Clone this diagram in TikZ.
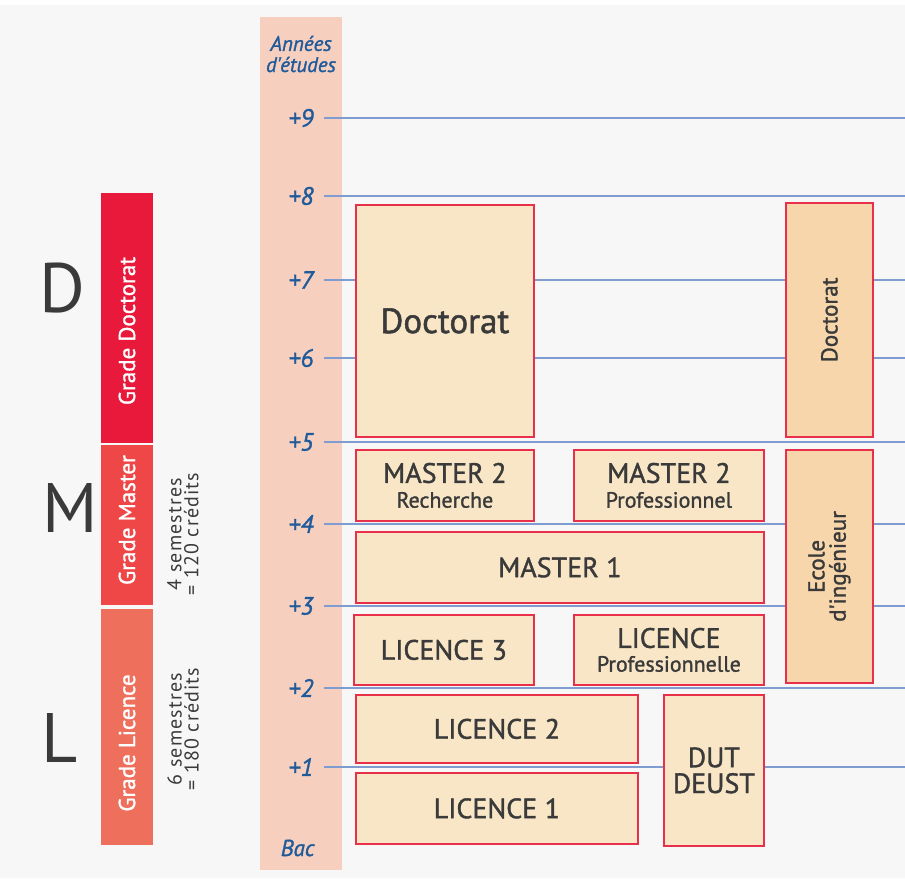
\documentclass[tikz,border=0pt]{standalone}
\usepackage{fontspec}
\setmainfont{PT Sans}
\newfontfamily\semib[FakeBold=1.3]{PT Sans}
\newfontfamily\spaced[LetterSpace=6]{PT Sans}
\usetikzlibrary{positioning}

\definecolor{bggray}{HTML}{F7F7F7}
\definecolor{bandpink}{HTML}{F6CFBF}
\definecolor{lineblue}{HTML}{7F9CD0}
\definecolor{yearblue}{HTML}{1F5A9A}
\definecolor{boxfill}{HTML}{F8E6C6}
\definecolor{boxorange}{HTML}{F7D6AC}
\definecolor{boxred}{HTML}{E8304A}
\definecolor{txtdark}{HTML}{3A3A3A}
\definecolor{gradeD}{HTML}{E8193A}
\definecolor{gradeM}{HTML}{EF4747}
\definecolor{gradeL}{HTML}{EF6F5D}

\newcommand{\fsz}[1]{\fontsize{#1}{1.1\dimexpr#1pt\relax}\selectfont}

\begin{document}
\begin{tikzpicture}[x=1pt,y=-1pt,
  cbox/.style={draw=boxred,fill=boxfill,line width=1.8pt,inner sep=0pt,
    align=center,text=txtdark,anchor=north west,font=\semib\fsz{28}},
  obox/.style={cbox,fill=boxorange},
  vtxt/.style={rotate=90,text=txtdark,align=center,font=\semib\fsz{23}},
  gradebar/.style={inner sep=0pt,anchor=north west,minimum width=52pt},
  gradetxt/.style={rotate=90,text=white,font=\semib\fsz{23}},
  yearlbl/.style={text=yearblue,font=\semib\fsz{25}\itshape,anchor=east},
  yline/.style={draw=lineblue,line width=1.8pt},
  bigletter/.style={text=txtdark,font=\fsz{70}},
  credits/.style={rotate=90,text=txtdark,align=center,font=\spaced\fsz{20}}]
  \useasboundingbox (0,0) rectangle (905,882);
  \fill[white] (0,0) rectangle (905,882);
  \fill[bggray] (0,5) rectangle (905,878);
  % years column
  \fill[bandpink] (260,17) rectangle (342,870);
  \node[text=yearblue,font=\semib\fsz{21}\itshape,align=center] (annees) at (301,54) {Années\\[-2pt]d'études};
  \foreach \n/\y in {9/118,8/196,7/280,6/358,5/442,4/524,3/606,2/688,1/767}{
    \node[yearlbl] (y\n) at (317,\y) {+\n};
    \draw[yline] (324,\y) -- (905,\y);
  }
  \node[yearlbl,font=\semib\fsz{23}\itshape] (bac) at (318,848) {Bac};

  % grades
  \node[gradebar,fill=gradeD,minimum height=250pt] (gd) at (101,193) {};
  \node[gradebar,fill=gradeM,minimum height=160pt] (gm) at (101,445) {};
  \node[gradebar,fill=gradeL,minimum height=236pt] (gl) at (101,609) {};
  \node[gradetxt] (gd-t) at (127,331) {Grade Doctorat};
  \node[gradetxt] (gm-t) at (127,520) {Grade Master};
  \node[gradetxt] (gl-t) at (127,743) {Grade Licence};
  \node[bigletter] (lD) at (62,288) {D};
  \node[bigletter] (lM) at (70,508) {M};
  \node[bigletter] (lL) at (60,738) {L};
  \node[credits] (cm) at (183,534) {4 semestres\\[-5pt]= 120 crédits};
  \node[credits] (cl) at (183,729) {6 semestres\\[-5pt]= 180 crédits};

  % diplomas
  \node[cbox,minimum width=178pt,minimum height=232pt,font=\semib\fsz{35}] (doc) at (355,204) {Doctorat};
  \node[obox,minimum width=87pt,minimum height=234pt] (docv) at (785,202) {};
  \node[vtxt] (docv-t) at (docv.center) {Doctorat};
  \node[cbox,minimum width=178pt,minimum height=71pt] (m2r) at (355,449)
    {MASTER 2\\[-6pt]{\fsz{22}Recherche}};
  \node[cbox,minimum width=190pt,minimum height=71pt] (m2p) at (573,449)
    {MASTER 2\\[-6pt]{\fsz{22}Professionnel}};
  \node[obox,minimum width=87pt,minimum height=233pt] (ecole) at (785,449) {};
  \node[vtxt] (ecole-t) at (ecole.center) {Ecole\\[-4pt]d'ingénieur};
  \node[cbox,minimum width=408pt,minimum height=71pt] (m1) at (355,531) {MASTER 1};
  \node[cbox,minimum width=180pt,minimum height=70pt] (l3) at (353,614) {LICENCE 3};
  \node[cbox,minimum width=190pt,minimum height=70pt] (lp) at (573,614)
    {LICENCE\\[-7pt]{\fsz{22}Professionnelle}};
  \node[cbox,minimum width=282pt,minimum height=68pt] (l2) at (355,694) {LICENCE 2};
  \node[cbox,minimum width=100pt,minimum height=151pt] (dut) at (663,694) {DUT\\[-5pt]DEUST};
  \node[cbox,minimum width=282pt,minimum height=71pt] (l1) at (355,772) {LICENCE 1};
\end{tikzpicture}
\end{document}
